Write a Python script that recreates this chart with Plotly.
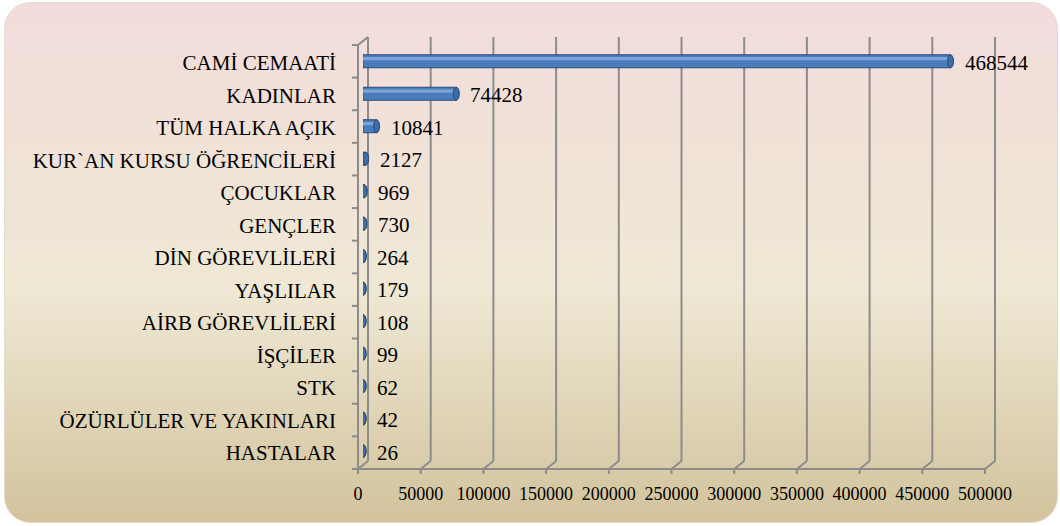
import base64
import plotly.graph_objects as go

categories = ["CAMİ CEMAATİ", "KADINLAR", "TÜM HALKA AÇIK", "KUR`AN KURSU ÖĞRENCİLERİ",
              "ÇOCUKLAR", "GENÇLER", "DİN GÖREVLİLERİ", "YAŞLILAR", "AİRB GÖREVLİLERİ",
              "İŞÇİLER", "STK", "ÖZÜRLÜLER VE YAKINLARI", "HASTALAR"]
values = [468544, 74428, 10841, 2127, 969, 730, 264, 179, 108, 99, 62, 42, 26]
x_ticks = [0, 50000, 100000, 150000, 200000, 250000, 300000, 350000, 400000, 450000, 500000]

W, H = 1060, 526
L, R, T, B = 363, 70, 41, 61           # plot area = middle depth plane
PW, PH = W - L - R, H - T - B
DX, DY = 5, 4                          # half depth of the 3d box, px
SH = 0.07                              # bars sit a bit below the middle plane
FONT = "Liberation Serif"
GRID = "#8c8c8c"


def px(x):
    return (x - L) / PW


def py(y):
    return (H - B - y) / PH


def line(x0, y0, x1, y1, width=2):
    return dict(type="line", xref="paper", yref="paper",
                x0=px(x0), y0=py(y0), x1=px(x1), y1=py(y1),
                line=dict(color=GRID, width=width), layer="below")


# background: rounded rectangle with vertical gradient
svg = f'''<svg xmlns="http://www.w3.org/2000/svg" width="{W}" height="{H}">
<defs><linearGradient id="g" x1="0" y1="0" x2="0" y2="1">
<stop offset="0" stop-color="#f2dcdb"/><stop offset="0.55" stop-color="#efe8d4"/>
<stop offset="1" stop-color="#d2c39c"/></linearGradient></defs>
<rect x="4.5" y="2.5" width="1053" height="520" rx="26" ry="26"
 fill="url(#g)" stroke="#e4dccb" stroke-width="1"/>
</svg>'''
bg = "data:image/svg+xml;base64," + base64.b64encode(svg.encode()).decode()

xmax = x_ticks[-1]
shapes = []
front_y = H - B + DY
back_y = H - B - DY
top_back = T - DY
for t in x_ticks:
    xt = L + t / xmax * PW
    shapes.append(line(xt + DX, back_y, xt + DX, top_back))          # back wall grid
    shapes.append(line(xt - DX, front_y, xt + DX, back_y))           # floor diagonal
    shapes.append(line(xt - DX, front_y, xt - DX, front_y + 5))      # tick
shapes.append(line(L - DX, front_y, L + PW - DX, front_y))           # floor front edge
shapes.append(line(L - DX, T + DY, L - DX, front_y))                 # left front edge
shapes.append(line(L - DX, T + DY, L + DX, top_back))                # top-left diagonal
for i in range(len(categories) + 1):
    yb = T + DY + i * PH / len(categories)
    shapes.append(line(L - DX - 6, yb, L - DX, yb))

# cylinder caps
for i, v in enumerate(values):
    shapes.append(dict(type="circle", xref="x", yref="y", xsizemode="pixel",
                       xanchor=0, x0=-3, x1=3, y0=i - 0.2 + SH, y1=i + 0.2 + SH,
                       fillcolor="#3f6fa8", line=dict(color="#27476f", width=1),
                       layer="below"))
    shapes.append(dict(type="circle", xref="x", yref="y", xsizemode="pixel",
                       xanchor=v, x0=-3, x1=3, y0=i - 0.2 + SH, y1=i + 0.2 + SH,
                       fillcolor="#3d6ca6", line=dict(color="#27476f", width=1),
                       layer="above"))

fig = go.Figure()
fig.add_trace(go.Bar(y=categories, x=values, orientation="h", width=0.4, offset=-0.2 + SH,
                     marker=dict(color="#4a7cbb", line=dict(color="#2b4c78", width=1)),
                     hoverinfo="x+y"))
fig.add_trace(go.Bar(y=categories, x=values, orientation="h", width=0.1, offset=-0.13 + SH,
                     marker=dict(color="#8db2e2", line=dict(width=0)), opacity=0.75,
                     hoverinfo="skip"))

annotations = [dict(x=v, y=c, xref="x", yref="y", text=str(v), showarrow=False,
                    xanchor="left", xshift=12, yshift=-4,
                    font=dict(family=FONT, size=21, color="#000"))
               for c, v in zip(categories, values)]

fig.update_layout(
    width=W, height=H,
    margin=dict(l=L, r=R, t=T, b=B, pad=0),
    paper_bgcolor="white", plot_bgcolor="rgba(0,0,0,0)",
    barmode="overlay", showlegend=False,
    shapes=shapes, annotations=annotations,
    images=[dict(source=bg, xref="paper", yref="paper", x=px(0), y=py(0),
                 sizex=W / PW, sizey=H / PH, xanchor="left", yanchor="top",
                 sizing="stretch", layer="below")],
)
fig.update_xaxes(range=[0, xmax], tickvals=x_ticks, tickformat="d",
                 showgrid=False, zeroline=False, showline=False, ticks="",
                 ticklabelshift=-DX, ticklabelstandoff=16,
                 tickfont=dict(family=FONT, size=18, color="#000"))
fig.update_yaxes(autorange="reversed", showgrid=False, zeroline=False, showline=False,
                 ticks="", ticklabelstandoff=26, ticklabelshift=-DY,
                 tickfont=dict(family=FONT, size=21, color="#000"))

# drop the default page margin so the chart sits at the window's corner
fig.write_html("out.html", config={"displayModeBar": False},
               post_script="document.body.style.margin = '0';")
